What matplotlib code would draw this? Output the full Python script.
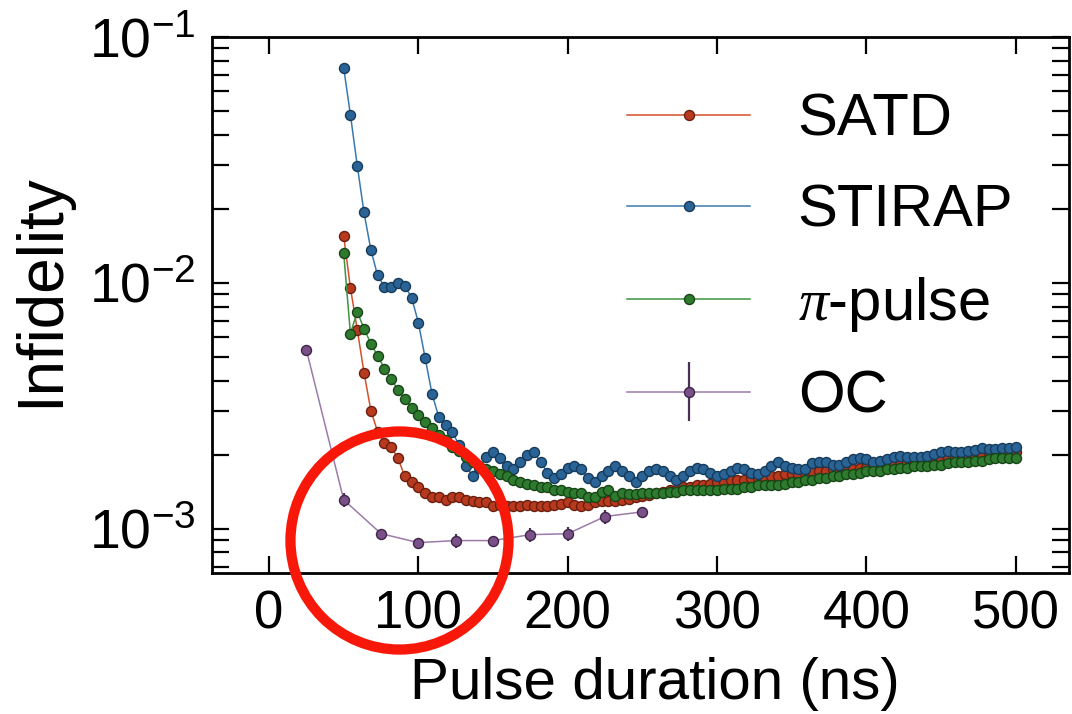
'''Infidelity vs pulse duration for SATD, STIRAP, pi-pulse and OC'''

import numpy as np
import matplotlib as ma
ma.use('agg')
import matplotlib.pyplot as plt
from matplotlib.ticker import FixedLocator, LogLocator, NullFormatter

# pulse durations (ns) shared by the three scans
t_ns = [50.0, 54.5, 59.1, 63.6, 68.2, 72.7, 77.3, 81.8, 86.4, 90.9,
        95.5, 100.0, 104.5, 109.1, 113.6, 118.2, 122.7, 127.3, 131.8, 136.4,
        140.9, 145.5, 150.0, 154.5, 159.1, 163.6, 168.2, 172.7, 177.3, 181.8,
        186.4, 190.9, 195.5, 200.0, 204.5, 209.1, 213.6, 218.2, 222.7, 227.3,
        231.8, 236.4, 240.9, 245.5, 250.0, 254.5, 259.1, 263.6, 268.2, 272.7,
        277.3, 281.8, 286.4, 290.9, 295.5, 300.0, 304.5, 309.1, 313.6, 318.2,
        322.7, 327.3, 331.8, 336.4, 340.9, 345.5, 350.0, 354.5, 359.1, 363.6,
        368.2, 372.7, 377.3, 381.8, 386.4, 390.9, 395.5, 400.0, 404.5, 409.1,
        413.6, 418.2, 422.7, 427.3, 431.8, 436.4, 440.9, 445.5, 450.0, 454.5,
        459.1, 463.6, 468.2, 472.7, 477.3, 481.8, 486.4, 490.9, 495.5, 500.0]

# infidelities in units of 1e-3
satd = [15.5, 9.54, 6.44, 4.31, 3.02, 2.48, 2.22, 2.15, 1.93, 1.63,
        1.54, 1.47, 1.40, 1.35, 1.34, 1.31, 1.34, 1.35, 1.31, 1.29,
        1.28, 1.28, 1.23, 1.25, 1.24, 1.23, 1.23, 1.25, 1.23, 1.23,
        1.24, 1.25, 1.26, 1.28, 1.25, 1.24, 1.25, 1.28, 1.29, 1.29,
        1.30, 1.31, 1.32, 1.34, 1.36, 1.37, 1.39, 1.41, 1.43, 1.44,
        1.47, 1.48, 1.50, 1.51, 1.52, 1.54, 1.55, 1.57, 1.58, 1.58,
        1.60, 1.61, 1.61, 1.63, 1.64, 1.66, 1.67, 1.67, 1.69, 1.71,
        1.72, 1.72, 1.74, 1.74, 1.75, 1.75, 1.77, 1.77, 1.79, 1.80,
        1.80, 1.82, 1.82, 1.84, 1.86, 1.87, 1.87, 1.89, 1.91, 1.93,
        1.93, 1.94, 1.96, 1.96, 1.98, 1.98, 2.00, 2.00, 2.02, 2.04]

stirap = [74.8, 48.2, 29.9, 19.3, 13.6, 10.7, 9.63, 9.63, 10.0, 9.72,
          8.69, 6.88, 4.96, 3.54, 2.85, 2.65, 2.48, 2.18, 1.80, 1.63,
          1.77, 1.96, 2.04, 1.94, 1.79, 1.74, 1.86, 2.00, 2.04, 1.87,
          1.69, 1.61, 1.66, 1.77, 1.79, 1.74, 1.61, 1.55, 1.64, 1.72,
          1.79, 1.72, 1.63, 1.55, 1.63, 1.72, 1.75, 1.71, 1.63, 1.58,
          1.63, 1.71, 1.77, 1.75, 1.69, 1.63, 1.66, 1.72, 1.77, 1.75,
          1.69, 1.67, 1.72, 1.80, 1.86, 1.80, 1.77, 1.75, 1.75, 1.84,
          1.87, 1.86, 1.82, 1.82, 1.86, 1.91, 1.93, 1.91, 1.87, 1.89,
          1.91, 1.96, 1.98, 1.96, 1.96, 1.96, 1.98, 2.02, 2.04, 2.06,
          2.04, 2.04, 2.06, 2.08, 2.12, 2.10, 2.10, 2.12, 2.12, 2.14]

pipulse = [13.2, 6.21, 7.62, 6.50, 5.65, 5.05, 4.47, 4.04, 3.67, 3.38,
           3.10, 2.91, 2.72, 2.57, 2.41, 2.30, 2.15, 2.06, 1.96, 1.87,
           1.80, 1.75, 1.71, 1.66, 1.63, 1.58, 1.55, 1.52, 1.50, 1.48,
           1.47, 1.44, 1.43, 1.41, 1.40, 1.39, 1.35, 1.34, 1.41, 1.44,
           1.36, 1.39, 1.38, 1.38, 1.39, 1.39, 1.40, 1.40, 1.41, 1.41,
           1.43, 1.43, 1.44, 1.44, 1.44, 1.44, 1.45, 1.45, 1.45, 1.47,
           1.48, 1.50, 1.50, 1.51, 1.51, 1.52, 1.54, 1.55, 1.57, 1.58,
           1.61, 1.61, 1.63, 1.64, 1.66, 1.67, 1.69, 1.71, 1.71, 1.72,
           1.74, 1.75, 1.77, 1.77, 1.79, 1.79, 1.80, 1.82, 1.82, 1.84,
           1.86, 1.86, 1.87, 1.89, 1.89, 1.91, 1.93, 1.93, 1.94, 1.94]

oc_t = [25, 50, 75, 100, 125, 150, 175, 200, 225, 250]
oc = [5.34, 1.31, 0.954, 0.877, 0.894, 0.894, 0.945, 0.953, 1.12, 1.17]
oc_err = [0.0, 0.09, 0.02, 0.02, 0.06, 0.03, 0.065, 0.065, 0.075, 0.02]

xticks = [0, 100, 200, 300, 400, 500]
yticks = [1e-3, 1e-2, 1e-1]
ylabels = [r'$\mathregular{10^{-3}}$', r'$\mathregular{10^{-2}}$', r'$\mathregular{10^{-1}}$']

# red ring drawn over the OC minimum (data coords)
ring_t, ring_val = 87, 0.9e-3

plt.rcParams['font.family'] = ['Liberation Sans', 'DejaVu Sans']
plt.rcParams['mathtext.fontset'] = 'custom'
plt.rcParams['mathtext.rm'] = 'Liberation Sans'
plt.rcParams['mathtext.it'] = 'Liberation Serif:italic'


def scaled(v):
    return np.array(v) * 1e-3


def main():
    fig = plt.figure(figsize=(10.72, 7.14), dpi=100)
    ax = fig.add_axes([0.198, 0.1975, 0.799, 0.751])

    styles = [
        (satd, 'SATD', '#d4502a', '#b83a1e', '#6a1e0e'),
        (stirap, 'STIRAP', '#3a78b0', '#2a6496', '#163a5a'),
        (pipulse, r'$\pi$-pulse', '#3c9440', '#2e7a2e', '#174517'),
    ]
    for vals, lab, lc, fc, ec in styles:
        ax.plot(t_ns, scaled(vals), '-o', color=lc, lw=1.1, ms=7.2,
                mfc=fc, mec=ec, mew=1.0, label=lab)

    ax.errorbar(oc_t, scaled(oc), yerr=scaled(oc_err), fmt='-o', color='#9c7aaa',
                lw=1.1, ms=7.2, mfc='#7a5088', mec='#3e2448', mew=1.0,
                ecolor='#4a3052', elinewidth=1.6, capsize=0, label='OC')

    ax.set_yscale('log')
    ax.set_xlim(-38, 535.5)
    ax.set_ylim(6.6e-4, 0.1)

    ax.xaxis.set_major_locator(FixedLocator(xticks))
    ax.set_yticks(yticks)
    ax.set_yticklabels(ylabels)
    ax.yaxis.set_minor_locator(LogLocator(base=10, subs=np.arange(2, 10)))
    ax.yaxis.set_minor_formatter(NullFormatter())

    ax.tick_params(which='both', direction='in', top=True, right=True,
                   width=1.6, length=12)
    ax.tick_params(axis='x', labelsize=38, pad=12)
    ax.tick_params(axis='y', labelsize=40, pad=12)
    for s in ax.spines.values():
        s.set_linewidth(2.0)

    ax.set_xlabel('Pulse duration (ns)', fontsize=42)
    ax.set_ylabel('Infidelity', fontsize=46)
    ax.xaxis.set_label_coords(0.517, -0.157)
    ax.yaxis.set_label_coords(-0.165, 0.528)

    ax.legend(loc='upper right', bbox_to_anchor=(0.977, 0.962), frameon=False,
              fontsize=43, handlelength=2.05, handletextpad=0.8,
              labelspacing=0.6, borderaxespad=0.2)

    # highlight ring
    ax.plot([ring_t], [ring_val], 'o', ms=157, mfc='none', mec='#f8180a',
            mew=7.4, clip_on=False, zorder=10)

    fig.savefig('out.png', dpi=100)


if __name__ == "__main__":
    main()
